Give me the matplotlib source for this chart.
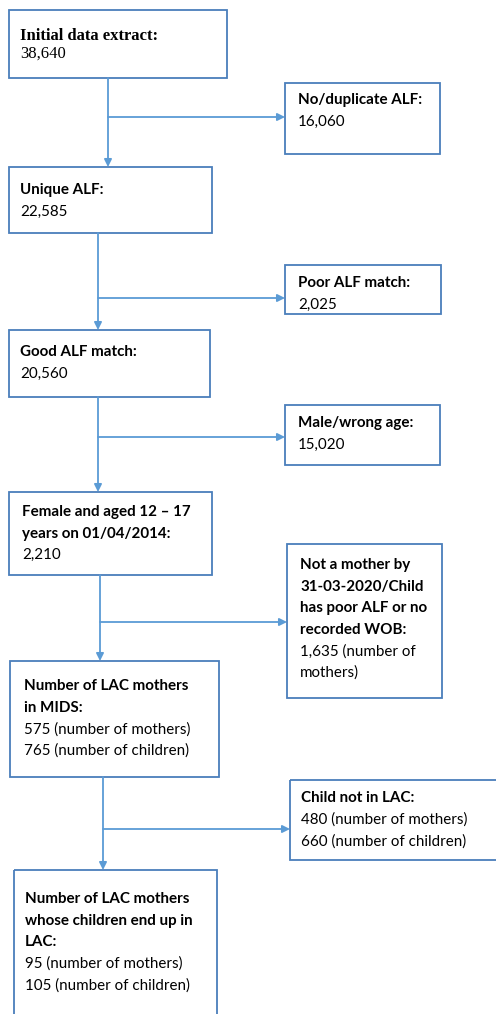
import matplotlib
matplotlib.use("Agg")
import matplotlib.pyplot as plt
from matplotlib.patches import Rectangle

# flow stages (main column) and the exclusions branching off them
main_heads = [
    "Initial data extract:",
    "Unique ALF:",
    "Good ALF match:",
    "Female and aged 12 \u2013 17\nyears on 01/04/2014:",
    "Number of LAC mothers\nin MIDS:",
    "Number of LAC mothers\nwhose children end up in\nLAC:",
]
main_counts = [
    "38,640",
    "22,585",
    "20,560",
    "2,210",
    "575 (number of mothers)\n765 (number of children)",
    "95 (number of mothers)\n105 (number of children)",
]
excl_heads = [
    "No/duplicate ALF:",
    "Poor ALF match:",
    "Male/wrong age:",
    "Not a mother by\n31-03-2020/Child\nhas poor ALF or no\nrecorded WOB:",
    "Child not in LAC:",
]
excl_counts = [
    "16,060",
    "2,025",
    "15,020",
    "1,635 (number of\nmothers)",
    "480 (number of mothers)\n660 (number of children)",
]

# layout in pixels: (x0, y0, x1, y1), text start (x, y)
main_boxes = [(9, 10, 227, 78), (9, 167, 212, 233), (9, 330, 210, 397),
              (9, 492, 212, 575), (10, 661, 219, 777), (14, 870, 217, 1030)]
main_text = [(20, 36), (20, 190), (20, 352), (22, 512), (24, 686), (25, 899)]
excl_boxes = [(285, 83, 440, 154), (285, 265, 441, 314), (285, 405, 440, 465),
              (287, 544, 442, 698), (290, 780, 500, 860)]
excl_text = [(298, 100), (298, 283), (298, 423), (300, 565), (301, 798)]
stem_x = [108, 98, 98, 100, 103]
branch_y = [117, 298, 437, 622, 829]

BOX = "#4a7ebb"
ARROW = "#5b9bd5"
LINE_H = 21.6
FS = 10.9

fig = plt.figure(figsize=(4.96, 10.14), dpi=100)
ax = fig.add_axes([0, 0, 1, 1])
ax.set_xlim(0, 496)
ax.set_ylim(1014, 0)
ax.axis("off")


def draw_box(b, tx, ty, head, count, serif=False):
    ax.add_patch(Rectangle((b[0], b[1]), b[2] - b[0], b[3] - b[1],
                           fill=False, edgecolor=BOX, lw=1.3))
    lines = [(l, True) for l in head.split("\n")] + [(l, False) for l in count.split("\n")]
    for i, (txt, bold) in enumerate(lines):
        fam = "Liberation Serif" if serif else "Lato"
        size = 12 if serif else FS
        ax.text(tx, ty + i * (18 if serif else LINE_H), txt, fontsize=size, family=fam,
                fontweight="bold" if bold else "normal",
                ha="left", va="center", color="black")


for i in range(len(main_heads)):
    draw_box(main_boxes[i], *main_text[i], main_heads[i], main_counts[i], serif=(i == 0))
for i in range(len(excl_heads)):
    draw_box(excl_boxes[i], *excl_text[i], excl_heads[i], excl_counts[i])

arrow_kw = dict(arrowstyle="-|>", color=ARROW, lw=1.3, mutation_scale=11,
                shrinkA=0, shrinkB=0)
for i in range(len(excl_heads)):
    x = stem_x[i]
    top = main_boxes[i][3]
    bottom = main_boxes[i + 1][1]
    ax.annotate("", xy=(x, bottom), xytext=(x, top), arrowprops=arrow_kw)
    ax.annotate("", xy=(excl_boxes[i][0], branch_y[i]), xytext=(x, branch_y[i]),
                arrowprops=arrow_kw)

fig.savefig("out.png", dpi=100)
